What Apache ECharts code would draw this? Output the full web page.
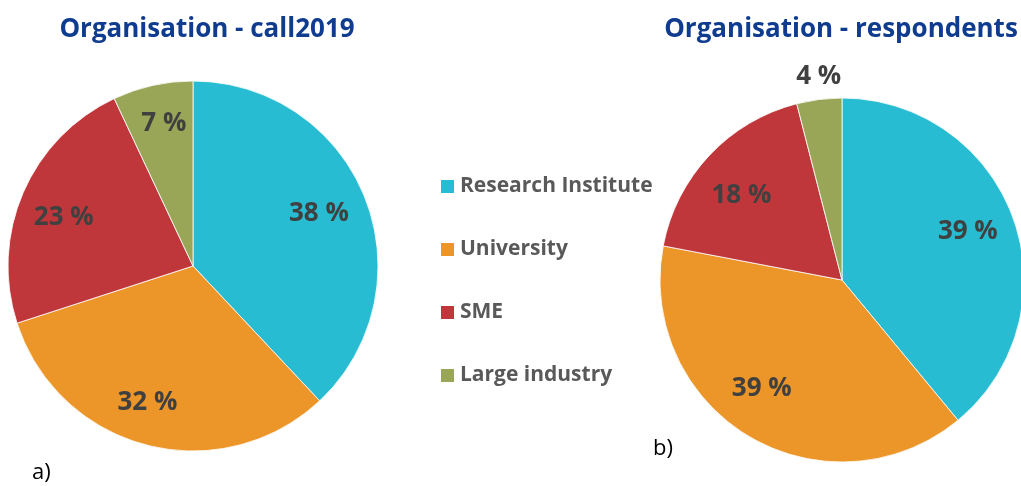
<!DOCTYPE html>
<html>
<head>
<meta charset="utf-8">
<script src="https://cdn.jsdelivr.net/npm/echarts@6/dist/echarts.min.js"></script>
<style>
  html, body { margin: 0; padding: 0; background: #fff; }
  #main { width: 1021px; height: 486px; }
</style>
</head>
<body>
<div id="main"></div>
<script>
// categories and values
const categories = ["Research Institute", "University", "SME", "Large industry"];
const call2019 = [38, 32, 23, 7];
const respondents = [39, 39, 18, 4];
const colors = ["#27bcd1", "#ec9528", "#bf373b", "#9aa657"];

const FONT = "Open Sans";

function pieData(values) {
  return values.map(function (v, i) {
    return { name: categories[i], value: v, itemStyle: { color: colors[i] } };
  });
}

// transparent ring on top, only to carry the labels a bit further out
function labelRing(values, center, radius, outsideIdx) {
  return {
    type: "pie",
    center: center,
    radius: radius,
    silent: true,
    animation: false,
    emphasis: { disabled: true },
    itemStyle: { color: "rgba(0,0,0,0)", borderWidth: 0 },
    labelLine: { show: false },
    label: {
      show: true,
      position: "inside",
      formatter: "{c} %",
      color: "#404040",
      fontFamily: FONT,
      fontWeight: "bold",
      fontSize: 26,
    },
    data: values.map(function (v, i) {
      const item = { name: categories[i], value: v };
      if (i === outsideIdx) {
        item.label = { position: "outside" };
        item.labelLine = { show: false, length: 8, length2: 0 };
      }
      return item;
    }),
  };
}

function mainPie(values, center, radius) {
  return {
    type: "pie",
    center: center,
    radius: radius,
    animation: false,
    startAngle: 90,
    clockwise: true,
    label: { show: false },
    labelLine: { show: false },
    itemStyle: { borderColor: "#ffffff", borderWidth: 0.8 },
    data: pieData(values),
  };
}

const chart = echarts.init(document.getElementById("main"));
const ring1 = labelRing(call2019, [193, 266], [95, 185], -1);
ring1.labelLayout = function (p) {
  // small nudges so the labels sit where the original ones do
  const nudge = [[-7, 0], [-10, -2], [2, 8], [2, -3]];
  return { dx: nudge[p.dataIndex][0], dy: nudge[p.dataIndex][1] };
};
const ring2 = labelRing(respondents, [842, 280], [88, 182], 3);
ring2.labelLayout = function (p) {
  const nudge = [[-4, -2], [-10, -10], [0, 10], [28, -15]];
  return { dx: nudge[p.dataIndex][0], dy: nudge[p.dataIndex][1] };
};

chart.setOption({
  backgroundColor: "#ffffff",
  title: [
    {
      text: "Organisation - call2019",
      left: 202, top: 12, textAlign: "center",
      textStyle: { color: "#0f3c8f", fontFamily: FONT, fontWeight: "bold", fontSize: 26 },
    },
    {
      text: "Organisation - respondents",
      left: 836, top: 12, textAlign: "center",
      textStyle: { color: "#0f3c8f", fontFamily: FONT, fontWeight: "bold", fontSize: 26 },
    },
    {
      text: "a)", left: 27, top: 457,
      textStyle: { color: "#000", fontFamily: FONT, fontWeight: "normal", fontSize: 22 },
    },
    {
      text: "b)", left: 648, top: 433,
      textStyle: { color: "#000", fontFamily: FONT, fontWeight: "normal", fontSize: 22 },
    },
  ],
  legend: {
    orient: "vertical",
    left: 434,
    top: 171,
    icon: "rect",
    itemWidth: 15,
    itemHeight: 15,
    itemGap: 42,
    selectedMode: false,
    data: categories,
    textStyle: { color: "#595959", fontFamily: FONT, fontWeight: "bold", fontSize: 21 },
  },
  series: [
    mainPie(call2019, [193, 266], [0, 185]),
    mainPie(respondents, [842, 280], [0, 182]),
    ring1,
    ring2,
  ],
});
</script>
</body>
</html>
